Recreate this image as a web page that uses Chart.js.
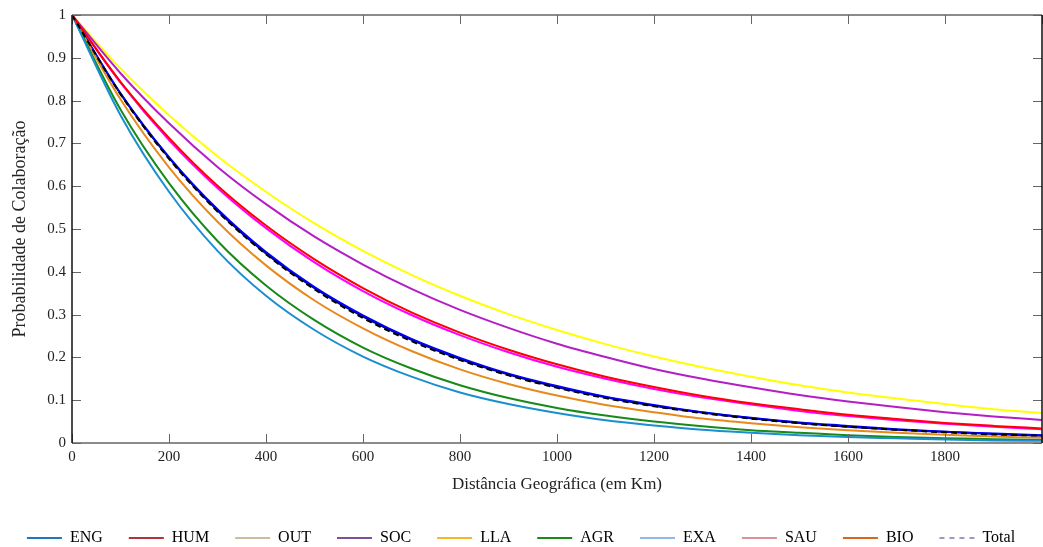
<!DOCTYPE html>
<html>
<head>
<meta charset="utf-8">
<script src="https://cdn.jsdelivr.net/npm/chart.js@4"></script>
<style>
  html, body { margin: 0; padding: 0; background: #fff; }
  #wrap { width: 1043px; height: 547px; }
</style>
</head>
<body>
<div id="wrap"><canvas id="chart" width="1043" height="547"></canvas></div>
<script>
// Distância (km) e probabilidades
const distances = [0, 100, 200, 300, 400, 500, 600, 700, 800, 900, 1000, 1100, 1200, 1300, 1400, 1500, 1600, 1700, 1800, 1900, 2000];

const ENG = [1, 0.766, 0.587, 0.449, 0.344, 0.264, 0.202, 0.155, 0.118, 0.091, 0.070, 0.053, 0.041, 0.031, 0.024, 0.018, 0.014, 0.011, 0.008, 0.006, 0.005];
const HUM = [1, 0.844, 0.713, 0.601, 0.508, 0.429, 0.362, 0.305, 0.258, 0.218, 0.184, 0.155, 0.131, 0.110, 0.093, 0.079, 0.066, 0.056, 0.047, 0.040, 0.034];
const OUT = [1, 0.816, 0.666, 0.543, 0.443, 0.362, 0.295, 0.241, 0.196, 0.160, 0.131, 0.107, 0.087, 0.071, 0.058, 0.047, 0.038, 0.031, 0.026, 0.021, 0.017];
const SOC = [1, 0.864, 0.747, 0.645, 0.558, 0.482, 0.417, 0.360, 0.311, 0.269, 0.232, 0.201, 0.173, 0.150, 0.130, 0.112, 0.097, 0.084, 0.072, 0.062, 0.054];
const LLA = [1, 0.875, 0.766, 0.670, 0.587, 0.513, 0.449, 0.393, 0.344, 0.301, 0.264, 0.231, 0.202, 0.177, 0.155, 0.135, 0.118, 0.104, 0.091, 0.079, 0.070];
const AGR = [1, 0.779, 0.607, 0.472, 0.368, 0.287, 0.223, 0.174, 0.135, 0.105, 0.082, 0.064, 0.050, 0.039, 0.030, 0.024, 0.018, 0.014, 0.011, 0.009, 0.007];
const EXA = [1, 0.817, 0.668, 0.546, 0.446, 0.364, 0.298, 0.243, 0.199, 0.162, 0.133, 0.108, 0.089, 0.072, 0.059, 0.048, 0.040, 0.032, 0.026, 0.022, 0.018];
const SAU = [1, 0.842, 0.708, 0.596, 0.502, 0.422, 0.355, 0.299, 0.252, 0.212, 0.178, 0.150, 0.126, 0.106, 0.090, 0.075, 0.063, 0.053, 0.045, 0.038, 0.032];
const BIO = [1, 0.803, 0.644, 0.517, 0.415, 0.333, 0.268, 0.215, 0.172, 0.138, 0.111, 0.089, 0.072, 0.057, 0.046, 0.037, 0.030, 0.024, 0.019, 0.015, 0.012];
const Total = [1, 0.815, 0.664, 0.541, 0.441, 0.359, 0.292, 0.238, 0.194, 0.158, 0.129, 0.105, 0.086, 0.070, 0.057, 0.046, 0.038, 0.031, 0.025, 0.020, 0.017];

const seriesNames = ['ENG', 'HUM', 'OUT', 'SOC', 'LLA', 'AGR', 'EXA', 'SAU', 'BIO', 'Total'];
const seriesValues = [ENG, HUM, OUT, SOC, LLA, AGR, EXA, SAU, BIO, Total];

// cores das curvas (vivas) e da legenda (suaves), como no original
const lineColors = ['#1a8fd0', '#ff0000', '#000080', '#b41ec4', '#ffff00', '#178a17', '#0000ff', '#ff00ff', '#e8891c', '#000000'];
const legendColors = ['#1f77bd', '#b2333a', '#c9bf9c', '#7e4f9a', '#f2b825', '#1a8a1a', '#93b8e6', '#d9929c', '#d9661c', '#a096c4'];
const drawOrder = [5, 2, 8, 4, 4, 5, 7, 3, 5, 1];

const serif = "'Liberation Serif', 'DejaVu Serif', serif";

const datasets = seriesNames.map((name, i) => ({
    label: name,
    data: distances.map((d, j) => ({ x: d, y: seriesValues[i][j] })),
    borderColor: lineColors[i],
    borderWidth: 2,
    borderDash: name === 'Total' ? [6, 4] : [],
    pointRadius: 0,
    cubicInterpolationMode: 'monotone',
    fill: false,
    order: drawOrder[i]
}));

// caixa do eixo com marcas para dentro (estilo MATLAB)
const innerTicks = {
    id: 'innerTicks',
    afterDraw(chart) {
        const { ctx, chartArea: a, scales } = chart;
        ctx.save();
        ctx.lineWidth = 1;
        ctx.strokeStyle = '#666';
        scales.x.ticks.forEach(t => {
            const px = Math.round(scales.x.getPixelForValue(t.value)) + 0.5;
            ctx.beginPath();
            ctx.moveTo(px, a.bottom); ctx.lineTo(px, a.bottom - 9);
            ctx.moveTo(px, a.top); ctx.lineTo(px, a.top + 9);
            ctx.stroke();
        });
        scales.y.ticks.forEach(t => {
            const py = Math.round(scales.y.getPixelForValue(t.value)) + 0.5;
            ctx.beginPath();
            ctx.moveTo(a.left, py); ctx.lineTo(a.left + 9, py);
            ctx.moveTo(a.right, py); ctx.lineTo(a.right - 9, py);
            ctx.stroke();
        });
        // bordas
        ctx.lineWidth = 1.5;
        ctx.strokeStyle = '#666';
        ctx.beginPath();
        ctx.moveTo(a.left, a.top); ctx.lineTo(a.right, a.top);
        ctx.moveTo(a.left, a.bottom); ctx.lineTo(a.right, a.bottom);
        ctx.stroke();
        ctx.strokeStyle = '#111';
        ctx.beginPath();
        ctx.moveTo(a.left, a.top); ctx.lineTo(a.left, a.bottom);
        ctx.moveTo(a.right, a.top); ctx.lineTo(a.right, a.bottom);
        ctx.stroke();
        ctx.restore();
    }
};

const ctx = document.getElementById('chart').getContext('2d');
new Chart(ctx, {
    type: 'line',
    data: { datasets: datasets },
    options: {
        responsive: false,
        animation: false,
        layout: { padding: { left: 0, right: 1, top: 14, bottom: -9 } },
        scales: {
            x: {
                type: 'linear',
                min: 0,
                max: 2000,
                grid: { display: false, drawTicks: false },
                border: { display: false },
                afterFit: scale => { scale.height = 61; scale.paddingRight = 0; },
                ticks: {
                    stepSize: 200,
                    padding: 5,
                    color: '#222',
                    font: { family: serif, size: 15 },
                    callback: v => (v >= 2000 ? '' : v)
                },
                title: {
                    display: true,
                    text: 'Distância Geográfica (em Km)',
                    color: '#222',
                    font: { family: serif, size: 17 },
                    padding: { top: 4, bottom: 9 }
                }
            },
            y: {
                min: 0,
                max: 1,
                grid: { display: false, drawTicks: false },
                border: { display: false },
                afterFit: scale => { scale.width = 72; },
                ticks: {
                    stepSize: 0.1,
                    padding: 6,
                    color: '#222',
                    font: { family: serif, size: 15 },
                    callback: v => (Math.round(v * 10) / 10).toString()
                },
                title: {
                    display: true,
                    text: 'Probabilidade de Colaboração',
                    color: '#222',
                    font: { family: serif, size: 18 },
                    padding: { top: 9, bottom: 4 }
                }
            }
        },
        plugins: {
            tooltip: { enabled: false },
            legend: {
                position: 'bottom',
                labels: {
                    usePointStyle: true,
                    pointStyleWidth: 35,
                    boxHeight: 2,
                    padding: 26,
                    color: '#222',
                    font: { family: serif, size: 16 },
                    generateLabels: chart => chart.data.datasets.map((ds, i) => ({
                        text: ds.label,
                        fillStyle: legendColors[i],
                        strokeStyle: legendColors[i],
                        lineWidth: 2,
                        lineDash: ds.label === 'Total' ? [5, 5] : [],
                        pointStyle: 'line',
                        hidden: false,
                        datasetIndex: i
                    }))
                }
            }
        }
    },
    plugins: [innerTicks]
});
</script>
</body>
</html>
